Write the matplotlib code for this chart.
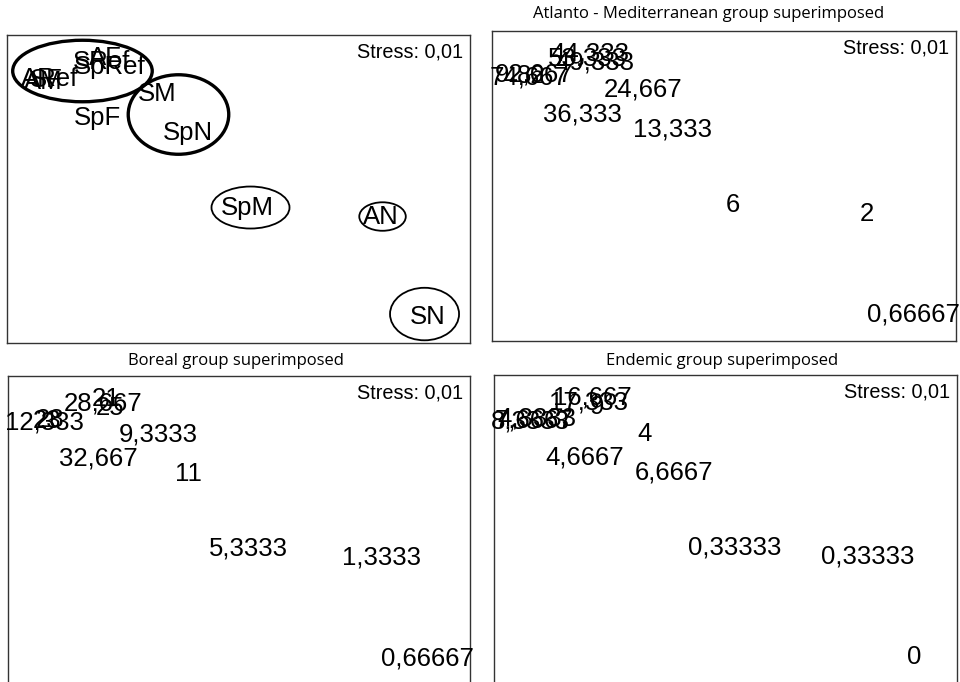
"""NMDS ordination of sites with group abundances superimposed."""

import matplotlib

matplotlib.use("Agg")
import matplotlib.pyplot as plt
from matplotlib.patches import Ellipse

# site scores on the two NMDS axes (shared by all four panels)
sites = ["AM", "SF", "ARef", "SRef", "AF", "SpRef", "SM", "SpF", "SpN", "SpM", "AN", "SN"]
dim1 = [-1.29, -1.27, -1.25, -0.90, -0.88, -0.85, -0.53, -0.93, -0.33, 0.07, 0.96, 1.27]
dim2 = [0.69, 0.70, 0.71, 0.82, 0.85, 0.79, 0.61, 0.45, 0.35, -0.15, -0.21, -0.88]

# group values superimposed on the sites
atlanto = ["74,667", "82", "92,667", "53,333", "44,333", "49,333",
           "24,667", "36,333", "13,333", "6", "2", "0,66667"]
boreal = ["12,333", "23", "28", "28,667", "21", "25",
          "9,3333", "32,667", "11", "5,3333", "1,3333", "0,66667"]
endemic = ["8,3333", "7,6667", "4,3333", "17,333", "16,667", "9",
           "4", "4,6667", "6,6667", "0,33333", "0,33333", "0"]

# cluster ellipses: centre x, centre y, width, height, line width
ell_x = [-1.03, -0.39, 0.09, 0.97, 1.25]
ell_y = [0.76, 0.47, -0.15, -0.21, -0.86]
ell_w = [0.93, 0.67, 0.52, 0.31, 0.46]
ell_h = [0.41, 0.53, 0.28, 0.19, 0.35]
ell_lw = [2.4, 2.4, 1.3, 1.3, 1.3]

W, H = 960, 682
LABEL_FONT = "Liberation Sans"
TITLE_FONT = "Open Sans"


def make_panel(fig, left, top, width, height, labels, ellipses=False):
    ax = fig.add_axes([left / W, 1 - (top + height) / H, width / W, height / H])
    ax.set_xlim(-1.533, 1.553)
    ax.set_ylim(-1.053, 1.0)
    ax.set_xticks([])
    ax.set_yticks([])
    for sp in ax.spines.values():
        sp.set_linewidth(1.0)
        sp.set_color("#333333")
    for x, y, lab in zip(dim1, dim2, labels):
        ax.text(x, y, lab, ha="center", va="center", fontsize=18.5,
                family=LABEL_FONT, color="black", clip_on=False)
    if ellipses:
        for cx, cy, w, h, lw in zip(ell_x, ell_y, ell_w, ell_h, ell_lw):
            ax.add_patch(Ellipse((cx, cy), w, h, fill=False,
                                 edgecolor="black", linewidth=lw))
    ax.text(0.985, 0.945, "Stress: 0,01", transform=ax.transAxes,
            ha="right", va="center", fontsize=14.3, family=LABEL_FONT)
    return ax


fig = plt.figure(figsize=(9.6, 6.82), dpi=100)

make_panel(fig, 7, 35, 463, 308, sites, ellipses=True)
make_panel(fig, 492, 31, 464, 310, atlanto)
make_panel(fig, 8, 376, 462, 308, boreal)
make_panel(fig, 494, 375, 463, 308, endemic)

fig.text(709 / W, 1 - 14 / H, "Atlanto - Mediterranean group superimposed",
         ha="center", va="center", fontsize=12, family=TITLE_FONT)
fig.text(236 / W, 1 - 361 / H, "Boreal group superimposed",
         ha="center", va="center", fontsize=12, family=TITLE_FONT)
fig.text(722 / W, 1 - 361 / H, "Endemic group superimposed",
         ha="center", va="center", fontsize=12, family=TITLE_FONT)

fig.savefig("out.png", dpi=100)
plt.close(fig)
